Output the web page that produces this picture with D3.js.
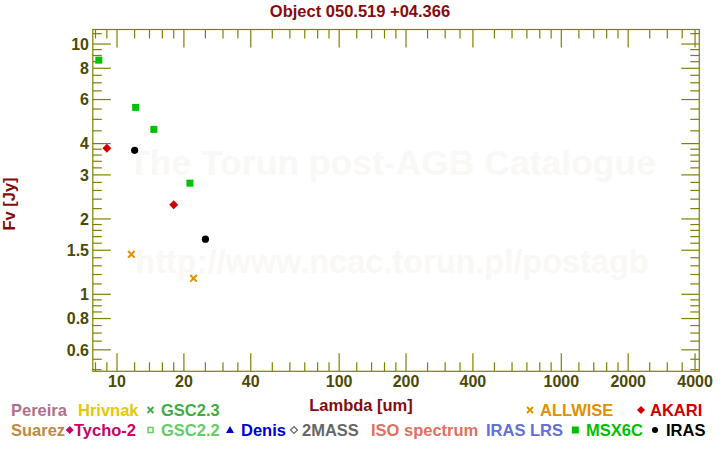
<!DOCTYPE html>
<html><head><meta charset="utf-8">
<script src="https://cdn.jsdelivr.net/npm/d3@7"></script>
<style>body{margin:0;background:#fff}svg{display:block}text{font-family:"Liberation Sans",Arial,sans-serif;font-weight:bold}</style>
</head><body><svg id="c" width="720" height="450"></svg>
<script>
// ---- data ----
const msxLambda = [8.28, 12.13, 14.65, 21.3];
const msxFlux   = [8.62, 5.58, 4.56, 2.78];
const akariLambda = [9.0, 18.0];
const akariFlux   = [3.83, 2.28];
const irasLambda = [12, 25];
const irasFlux   = [3.76, 1.66];
const allwiseLambda = [11.6, 22.1];
const allwiseFlux   = [1.445, 1.158];
const xTickLabels = [10, 20, 40, 100, 200, 400, 1000, 2000, 4000];
const yTickLabels = [0.6, 0.8, 1, 1.5, 2, 3, 4, 6, 8, 10];

const W = 720, H = 450;
const L = 92.8, R = 699.3, T = 29.5, B = 371.3;
const axisColor = "#808000", labColor = "#4a4a06", titleColor = "#850c0c";
const svg = d3.select("#c");
const x = d3.scaleLog().domain([7.78, 4180]).range([L, R]);
const y = d3.scaleLog().domain([0.4924, 11.43]).range([B, T]);

// minor ticks built from step rules
function seg(a, b, s) { return d3.range(a, b + 1e-9, s).map(v => +v.toFixed(4)); }
const xMinor = [].concat(seg(8, 9, 1), seg(12, 18, 2), seg(25, 35, 5), seg(50, 90, 10),
  seg(120, 180, 20), seg(250, 350, 50), seg(500, 900, 100), seg(1200, 1800, 200), seg(2500, 3500, 500));
const yMinor = [].concat([0.5, 0.55, 0.65, 0.7, 0.75, 0.85, 0.9, 0.95], seg(1.1, 1.4, 0.1), seg(1.6, 1.9, 0.1),
  seg(2.2, 2.8, 0.2), seg(3.2, 3.8, 0.2), seg(4.5, 5.5, 0.5), seg(6.5, 7.5, 0.5), seg(8.5, 9.5, 0.5), [11]);

// watermarks
svg.append("text").attr("x", 392).attr("y", 175).attr("text-anchor", "middle")
  .style("font-size", "35.5px").attr("fill", "#faf8f5").text("The Torun post-AGB Catalogue");
svg.append("text").attr("x", 392).attr("y", 273).attr("text-anchor", "middle")
  .style("font-size", "32.5px").attr("fill", "#faf8f5").text("http://www.ncac.torun.pl/postagb");

// axes (all four sides)
const g = svg.append("g").attr("stroke", axisColor).attr("stroke-width", 1.2).attr("fill", "none");
g.append("rect").attr("x", L).attr("y", T).attr("width", R - L).attr("height", B - T);
const bigT = 18, smT = 9;
function xt(vals, len) {
  vals.forEach(v => {
    g.append("line").attr("x1", x(v)).attr("x2", x(v)).attr("y1", B).attr("y2", B - len);
    g.append("line").attr("x1", x(v)).attr("x2", x(v)).attr("y1", T).attr("y2", T + len);
  });
}
function yt(vals, len) {
  vals.forEach(v => {
    g.append("line").attr("y1", y(v)).attr("y2", y(v)).attr("x1", L).attr("x2", L + len);
    g.append("line").attr("y1", y(v)).attr("y2", y(v)).attr("x1", R).attr("x2", R - len);
  });
}
xt(xTickLabels, bigT); xt(xMinor, smT); yt(yTickLabels, bigT); yt(yMinor, smT);

svg.append("g").selectAll("text").data(xTickLabels).join("text")
  .attr("x", d => x(d)).attr("y", 387).attr("text-anchor", "middle")
  .style("font-size", "16px").attr("fill", labColor).text(d => d);
svg.append("g").selectAll("text").data(yTickLabels).join("text")
  .attr("x", 89).attr("y", d => y(d) + 5.8).attr("text-anchor", "end")
  .style("font-size", "16px").attr("fill", labColor).text(d => d);

// titles
svg.append("text").attr("x", 360).attr("y", 17).attr("text-anchor", "middle")
  .style("font-size", "16.5px").attr("fill", titleColor).text("Object 050.519 +04.366");
svg.append("text").attr("x", 361).attr("y", 410.5).attr("text-anchor", "middle")
  .style("font-size", "16.5px").attr("fill", titleColor).text("Lambda [um]");
svg.append("text").attr("transform", "translate(15,204) rotate(-90)").attr("text-anchor", "middle")
  .style("font-size", "16.5px").attr("fill", titleColor).text("Fv [Jy]");

// data marks
const pts = svg.append("g");
const sq = 7;
pts.selectAll(".msx").data(d3.zip(msxLambda, msxFlux)).join("rect")
  .attr("x", d => x(d[0]) - sq / 2).attr("y", d => y(d[1]) - sq / 2)
  .attr("width", sq).attr("height", sq).attr("fill", "#00c000");
pts.selectAll(".ak").data(d3.zip(akariLambda, akariFlux)).join("path")
  .attr("d", d => { const cx = x(d[0]), cy = y(d[1]), r = 4.5; return `M${cx},${cy - r}L${cx + r},${cy}L${cx},${cy + r}L${cx - r},${cy}Z`; })
  .attr("fill", "#cc0000");
pts.selectAll(".ir").data(d3.zip(irasLambda, irasFlux)).join("circle")
  .attr("cx", d => x(d[0])).attr("cy", d => y(d[1])).attr("r", 3.6).attr("fill", "#000");
pts.selectAll(".aw").data(d3.zip(allwiseLambda, allwiseFlux)).join("path")
  .attr("d", d => { const cx = x(d[0]), cy = y(d[1]), r = 3.3; return `M${cx - r},${cy - r}L${cx + r},${cy + r}M${cx - r},${cy + r}L${cx + r},${cy - r}`; })
  .attr("stroke", "#e09000").attr("stroke-width", 2).attr("fill", "none");

// legend
const legend = [
  {t: "Pereira", c: "#b0708c", x: 11, y: 416},
  {t: "Hrivnak", c: "#e6c800", x: 78, y: 416},
  {t: "GSC2.3", c: "#44aa44", x: 161, y: 416, m: "x", mx: 150.5},
  {t: "ALLWISE", c: "#e09000", x: 540, y: 416, m: "x", mx: 530},
  {t: "AKARI", c: "#d00000", x: 650, y: 416, m: "d", mx: 641},
  {t: "Suarez", c: "#c08840", x: 11, y: 436},
  {t: "Tycho-2", c: "#cc0066", x: 74, y: 436, m: "d", mx: 69.7},
  {t: "GSC2.2", c: "#66cc66", x: 161, y: 436, m: "os", mx: 150.5},
  {t: "Denis", c: "#0000cc", x: 241, y: 436, m: "t", mx: 230},
  {t: "2MASS", c: "#666666", x: 302, y: 436, m: "od", mx: 294},
  {t: "ISO spectrum", c: "#e07060", x: 371, y: 436},
  {t: "IRAS LRS", c: "#6070d8", x: 486, y: 436},
  {t: "MSX6C", c: "#00c000", x: 586, y: 436, m: "s", mx: 575.3},
  {t: "IRAS", c: "#000000", x: 666, y: 436, m: "c", mx: 655}
];
const lg = svg.append("g");
legend.forEach(e => {
  lg.append("text").attr("x", e.x).attr("y", e.y).style("font-size", "16.5px").attr("fill", e.c).text(e.t);
  const cx = e.mx, cy = e.y - 6, r = 3;
  if (e.m === "x") lg.append("path").attr("d", `M${cx - r},${cy - r}L${cx + r},${cy + r}M${cx - r},${cy + r}L${cx + r},${cy - r}`).attr("stroke", e.c).attr("stroke-width", 1.8);
  if (e.m === "d") lg.append("path").attr("d", `M${cx},${cy - 4}L${cx + 4},${cy}L${cx},${cy + 4}L${cx - 4},${cy}Z`).attr("fill", e.c);
  if (e.m === "od") lg.append("path").attr("d", `M${cx},${cy - 3.5}L${cx + 3.5},${cy}L${cx},${cy + 3.5}L${cx - 3.5},${cy}Z`).attr("fill", "none").attr("stroke", e.c).attr("stroke-width", 1.2);
  if (e.m === "os") lg.append("rect").attr("x", cx - 2.5).attr("y", cy - 2.5).attr("width", 5).attr("height", 5).attr("fill", "none").attr("stroke", e.c).attr("stroke-width", 1.5);
  if (e.m === "s") lg.append("rect").attr("x", cx - 3.5).attr("y", cy - 3.5).attr("width", 7).attr("height", 7).attr("fill", e.c);
  if (e.m === "t") lg.append("path").attr("d", `M${cx},${cy - 4}L${cx + 4},${cy + 3}L${cx - 4},${cy + 3}Z`).attr("fill", e.c);
  if (e.m === "c") lg.append("circle").attr("cx", cx).attr("cy", cy).attr("r", 3).attr("fill", e.c);
});
</script></body></html>
